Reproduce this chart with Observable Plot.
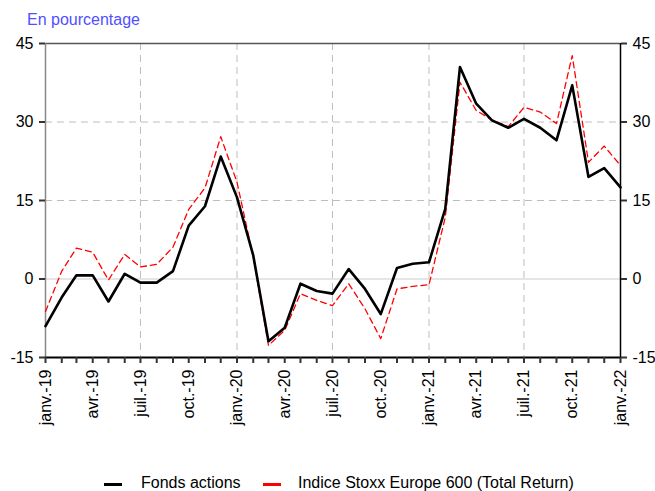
<!DOCTYPE html>
<html><head><meta charset="utf-8">
<script src="https://cdn.jsdelivr.net/npm/d3@7"></script>
<script src="https://cdn.jsdelivr.net/npm/@observablehq/plot@0.6"></script>
<style>
body{margin:0;background:#fff;font-family:"Liberation Sans",Arial,sans-serif;}
#wrap{position:relative;width:655px;height:491px;overflow:hidden;}
#title{position:absolute;left:27px;top:11px;font-size:16px;color:#5050ff;white-space:nowrap;}
.lg{position:absolute;top:474px;font-size:16px;color:#000;white-space:nowrap;line-height:18px;}
.sw{position:absolute;top:483px;height:0;border-top-width:3px;border-top-style:solid;}
</style></head>
<body>
<div id="wrap">
<div id="chart"></div>
<div id="title">En pourcentage</div>
<div class="sw" style="left:104px;width:18px;border-top-color:#000"></div>
<div class="lg" style="left:141px">Fonds actions</div>
<div class="sw" style="left:263px;width:18px;border-top-color:#ff0000"></div>
<div class="lg" style="left:298px">Indice Stoxx Europe 600 (Total Return)</div>
</div>
<script>
const monthNames = ["janv.","févr.","mars","avr.","mai","juin","juil.","août","sept.","oct.","nov.","déc."];
const yTicks = [-15, 0, 15, 30, 45];
const months = d3.utcMonth.range(new Date(Date.UTC(2019,0,1)), new Date(Date.UTC(2022,1,1)));
const fonds = [-9.0,-3.5,0.7,0.7,-4.3,1.0,-0.7,-0.7,1.5,10.2,13.9,23.4,15.6,4.5,-11.9,-9.3,-0.9,-2.3,-2.8,1.9,-1.9,-6.7,2.1,2.9,3.2,13.4,40.5,33.5,30.3,28.9,30.6,28.9,26.5,37.0,19.5,21.2,17.5];
const stoxx = [-6.2,1.5,5.9,5.1,-0.2,4.7,2.3,2.8,6.1,13.3,17.4,27.2,18.5,4.2,-12.7,-9.8,-2.8,-4.1,-5.1,-0.9,-5.7,-11.4,-1.9,-1.4,-1.1,11.8,37.6,32.2,30.4,29.1,32.8,31.9,29.7,42.7,22.3,25.4,21.7];

const rows = months.map((d,i) => ({date:d, fonds:fonds[i], stoxx:stoxx[i]}));
const quarters = months.filter(d => d.getUTCMonth() % 3 === 0);
const halfYears = months.filter((d,i) => d.getUTCMonth() % 6 === 0 && i > 0 && i < months.length-1);
const fmt = d => monthNames[d.getUTCMonth()] + "-" + String(d.getUTCFullYear()).slice(2);
const yfmt = d => String(d);

const chart = Plot.plot({
  width: 655, height: 491,
  marginTop: 43, marginBottom: 134, marginLeft: 45, marginRight: 35,
  x: {type: "utc", domain: [months[0], months[months.length-1]]},
  y: {domain: [-15, 45]},
  style: {fontFamily: "'Liberation Sans', Arial, sans-serif", fontSize: "16px", color: "#000", background: "white", overflow: "visible"},
  marks: [
    Plot.gridY([15, 30], {stroke: "#bdbdbd", strokeOpacity: 1, strokeDasharray: "7,5"}),
    Plot.gridX(halfYears, {stroke: "#bdbdbd", strokeOpacity: 1, strokeDasharray: "7,5"}),
    Plot.ruleY([0], {stroke: "#cccccc", strokeWidth: 1.2}),
    Plot.ruleY([45], {stroke: "#555", strokeWidth: 1.3}),
    Plot.ruleX([months[0]], {stroke: "#888", strokeWidth: 1.5}),
    Plot.ruleX([months[months.length-1]], {stroke: "#000", strokeWidth: 1.5}),
    Plot.line(rows, {x: "date", y: "stoxx", stroke: "#ff0000", strokeWidth: 1.3, strokeDasharray: "6,4"}),
    Plot.line(rows, {x: "date", y: "fonds", stroke: "#000", strokeWidth: 2.6}),
    Plot.ruleY([-15], {stroke: "#000", strokeWidth: 2}),
    Plot.axisY({anchor: "left", ticks: yTicks, tickSize: 6, tickPadding: 6, tickFormat: yfmt, label: null, strokeWidth: 2, stroke: "#333"}),
    Plot.axisY({anchor: "right", ticks: yTicks, tickSize: 6, tickPadding: 6, tickFormat: yfmt, label: null, strokeWidth: 2, stroke: "#333"}),
    Plot.axisX({ticks: months, tickSize: 6, tickFormat: () => "", label: null, strokeWidth: 2, stroke: "#333"}),
    Plot.axisX({ticks: quarters, tickSize: 0, tickPadding: 12, tickRotate: -90, tickFormat: fmt, label: null})
  ]
});
document.getElementById("chart").appendChild(chart);
</script>
</body></html>
